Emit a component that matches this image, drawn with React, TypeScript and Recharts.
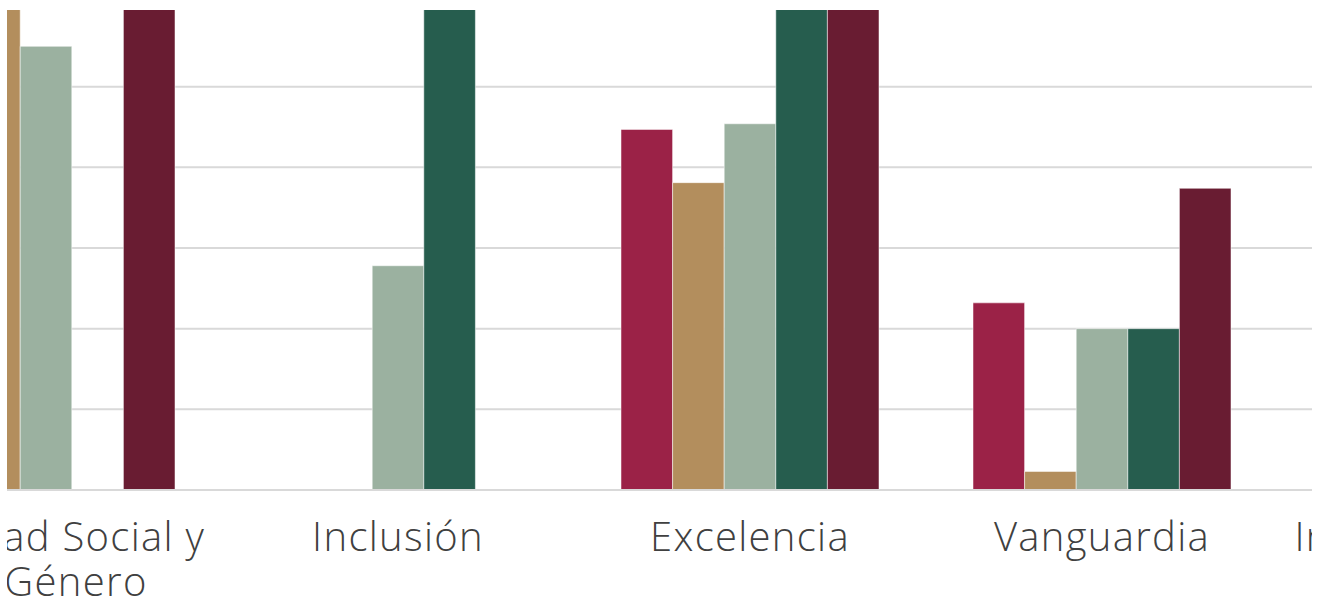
import { BarChart, Bar, XAxis, YAxis, CartesianGrid } from "recharts";

const categories = [
  "Igualdad Social y Género",
  "Inclusión",
  "Excelencia",
  "Vanguardia",
  "Interculturalidad",
];

// how each category label breaks into lines under the axis
const tickLabelLines: Record<string, string[]> = {
  "Igualdad Social y Género": ["Igualdad Social y", "Género"],
  "Inclusión": ["Inclusión"],
  "Excelencia": ["Excelencia"],
  "Vanguardia": ["Vanguardia"],
  "Interculturalidad": ["Interculturalidad"],
};

// one value per category, gridline step = 1
const serie1 = [4.0, null, 4.47, 2.32, 3.2];
const serie2 = [7.2, null, 3.81, 0.23, 1.5];
const serie3 = [5.5, 2.78, 4.54, 2.0, 2.6];
const serie4 = [null, 7.4, 7.1, 2.0, 4.1];
const serie5 = [7.3, null, 7.2, 3.74, 3.0];

const yTicks = [0, 1, 2, 3, 4, 5, 6];

const data = categories.map((name, i) => ({
  name,
  serie1: serie1[i],
  serie2: serie2[i],
  serie3: serie3[i],
  serie4: serie4[i],
  serie5: serie5[i],
}));

const series = [
  { key: "serie1", color: "#9B2247" },
  { key: "serie2", color: "#B38E5D" },
  { key: "serie3", color: "#9BB1A0" },
  { key: "serie4", color: "#265D4E" },
  { key: "serie5", color: "#691C32" },
];

const labelStyle = {
  fontFamily: "'Open Sans', sans-serif",
  fontSize: 40,
  fontWeight: 300,
  letterSpacing: "1.3px",
  fill: "#404040",
};

// wrapped lines sit a bit right of the first line, like the original
const WRAP_SHIFT = 30;

const renderTick = (props: any) => {
  const { x, y, payload } = props;
  const lines = tickLabelLines[payload.value] || [payload.value];
  return (
    <text key={payload.value} y={y + 25} textAnchor="middle" style={labelStyle}>
      {lines.map((line, i) => (
        <tspan
          key={line}
          x={i === 0 ? x : x + WRAP_SHIFT}
          dy={i === 0 ? "0.71em" : 45}
        >
          {line}
        </tspan>
      ))}
    </text>
  );
};

export default function App() {
  return (
    <div
      style={{
        position: "absolute",
        left: 7,
        top: 10,
        width: 1305,
        height: 596,
        overflow: "hidden",
      }}
    >
      <div style={{ position: "relative", left: -137.5, top: -3.6 }}>
        <BarChart
          width={1760}
          height={604}
          data={data}
          margin={{ top: 0, right: 0, left: 0, bottom: 0 }}
          barSize={51.6}
          barGap={0}
        >
          <CartesianGrid vertical={false} stroke="#d9d9d9" strokeWidth={2} />
          <XAxis
            dataKey="name"
            height={120}
            tickLine={false}
            axisLine={{ stroke: "#d9d9d9", strokeWidth: 2 }}
            tick={renderTick}
            interval={0}
          />
          <YAxis hide domain={[0, 6]} ticks={yTicks} allowDataOverflow />
          {series.map((s) => (
            <Bar
              key={s.key}
              dataKey={s.key}
              fill={s.color}
              stroke="#ffffff"
              strokeOpacity={0.5}
              strokeWidth={1}
              isAnimationActive={false}
            />
          ))}
        </BarChart>
      </div>
    </div>
  );
}
